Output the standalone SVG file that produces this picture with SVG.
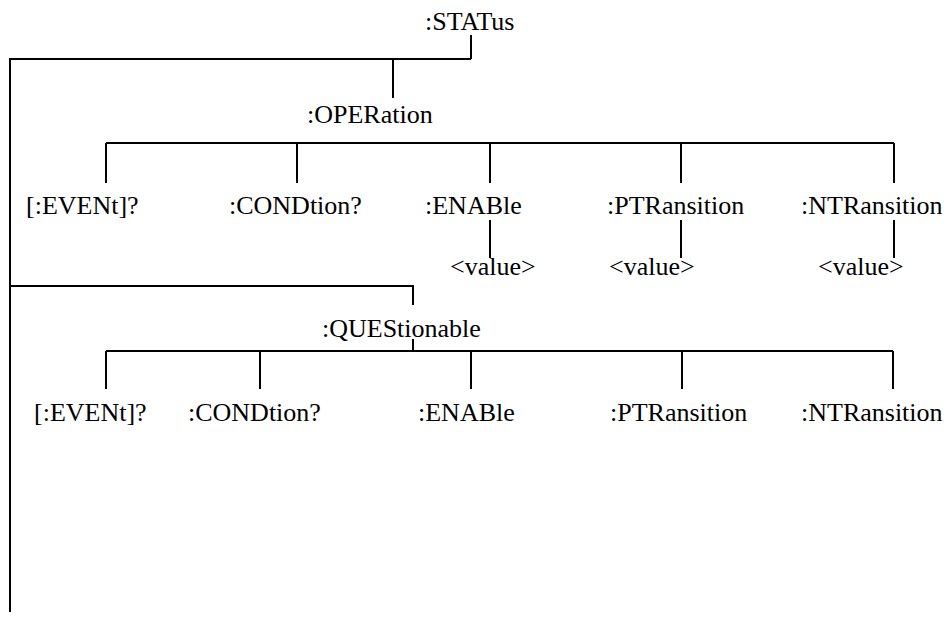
<svg xmlns="http://www.w3.org/2000/svg" width="951" height="618" viewBox="0 0 951 618">
<style>
.t { font-family: 'Liberation Serif', 'Times New Roman', serif; font-size: 26px; fill: #000; }
.c line, .c polyline { stroke: #000; stroke-width: 2; fill: none; }
</style>
<rect width="951" height="618" fill="#fff"/>
<g class="c" id="connectors">
  <line x1="471" y1="35" x2="471" y2="59"/>
  <polyline points="471,59 10,59 10,612"/>
  <line x1="393" y1="59" x2="393" y2="98"/>
  <line x1="106" y1="143" x2="894" y2="143"/>
  <line x1="106" y1="143" x2="106" y2="183"/>
  <line x1="297" y1="143" x2="297" y2="183"/>
  <line x1="490" y1="143" x2="490" y2="183"/>
  <line x1="681" y1="143" x2="681" y2="183"/>
  <line x1="894" y1="143" x2="894" y2="183"/>
  <line x1="490" y1="220" x2="490" y2="258"/>
  <line x1="681" y1="220" x2="681" y2="258"/>
  <line x1="894" y1="220" x2="894" y2="258"/>
  <polyline points="10,286 413,286 413,305"/>
  <line x1="413" y1="339" x2="413" y2="351"/>
  <line x1="106" y1="351" x2="893" y2="351"/>
  <line x1="106" y1="351" x2="106" y2="389"/>
  <line x1="260" y1="351" x2="260" y2="389"/>
  <line x1="471" y1="351" x2="471" y2="389"/>
  <line x1="682" y1="351" x2="682" y2="389"/>
  <line x1="893" y1="351" x2="893" y2="389"/>
</g>
<g class="t">
<g id="status"><text x="425" y="30">:STATus</text></g>
<g id="operation"><text x="307" y="123">:OPERation</text></g>
<g id="op-event"><text x="26" y="214">[:EVENt]?</text></g>
<g id="op-condition"><text x="229" y="214">:CONDtion?</text></g>
<g id="op-enable"><text x="425" y="214">:ENABle</text></g>
<g id="op-ptransition"><text x="607" y="214">:PTRansition</text></g>
<g id="op-ntransition"><text x="801" y="214">:NTRansition</text></g>
<g id="op-enable-value"><text x="450" y="275">&lt;value&gt;</text></g>
<g id="op-ptransition-value"><text x="609" y="275">&lt;value&gt;</text></g>
<g id="op-ntransition-value"><text x="818" y="275">&lt;value&gt;</text></g>
<g id="questionable"><text x="322" y="337">:QUEStionable</text></g>
<g id="q-event"><text x="34" y="421">[:EVENt]?</text></g>
<g id="q-condition"><text x="188" y="421">:CONDtion?</text></g>
<g id="q-enable"><text x="418" y="421">:ENABle</text></g>
<g id="q-ptransition"><text x="610" y="421">:PTRansition</text></g>
<g id="q-ntransition"><text x="801" y="421">:NTRansition</text></g>
</g>
</svg>
